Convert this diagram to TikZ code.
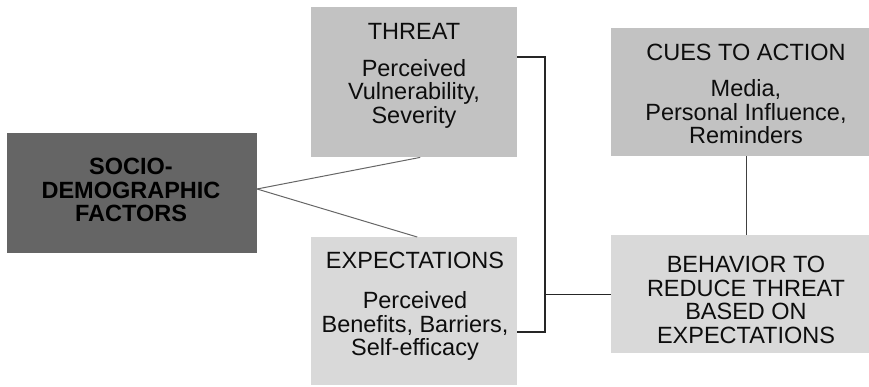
\documentclass[tikz,border=0pt]{standalone}
\usepackage{fontspec}
\setmainfont{Liberation Sans}
\begin{document}
\begin{tikzpicture}[x=1pt,y=-1pt,
  box/.style={draw=none, inner sep=0pt, anchor=north west},
  txt/.style={align=center, font=\fontsize{23.5}{23.5}\selectfont, inner sep=0pt, text=black!95, anchor=north},
  link/.style={draw=black!60, line width=1pt},
  bracket/.style={draw=black!85, line width=1.2pt}]
\useasboundingbox (0,0) rectangle (869,387);
\definecolor{darkbox}{HTML}{656565}
\definecolor{midbox}{HTML}{C2C2C2}
\definecolor{lightbox}{HTML}{D9D9D9}

% boxes
\node[box, fill=darkbox, minimum width=250pt, minimum height=120pt] (socio) at (7,133) {};
\node[box, fill=midbox, minimum width=206pt, minimum height=150pt] (threat) at (311,7) {};
\node[box, fill=lightbox, minimum width=206pt, minimum height=148pt] (expect) at (311,237) {};
\node[box, fill=midbox, minimum width=270pt, minimum height=128pt] (cues) at (611,28) {};
\node[box, fill=lightbox, minimum width=270pt, minimum height=118pt] (behav) at (611,235) {};

% texts
\node[txt, text=black, font=\fontsize{23.5}{23.5}\selectfont\bfseries] (sociotxt) at (131,158) {SOCIO-\\DEMOGRAPHIC\\FACTORS};
\node[txt] (threattxt) at (414,23) {THREAT\\[13.5pt]Perceived\\Vulnerability,\\Severity};
\node[txt] (expecttxt) at (415,252) {EXPECTATIONS\\[16.5pt]Perceived\\Benefits, Barriers,\\Self-efficacy};
\node[txt] (cuestxt) at (746,44) {CUES TO ACTION\\[12.5pt]Media,\\Personal Influence,\\Reminders};
\node[txt] (behavtxt) at (746,256) {BEHAVIOR TO\\REDUCE THREAT\\BASED ON\\EXPECTATIONS};

% connectors
\coordinate (fork) at (257,189);
\draw[link] (fork) -- ([xshift=6pt]threat.south);
\draw[link] (fork) -- ([xshift=3pt]expect.north);
\coordinate (bx) at (545,0);
\draw[bracket] (threat.east |- 0,57) -| (bx |- 0,332) -- (expect.east |- 0,332);
\draw[bracket] (bx |- behav.west) -- (behav.west);
\draw[link, draw=black!75] (cues.south) -- (behav.north);
\end{tikzpicture}
\end{document}
